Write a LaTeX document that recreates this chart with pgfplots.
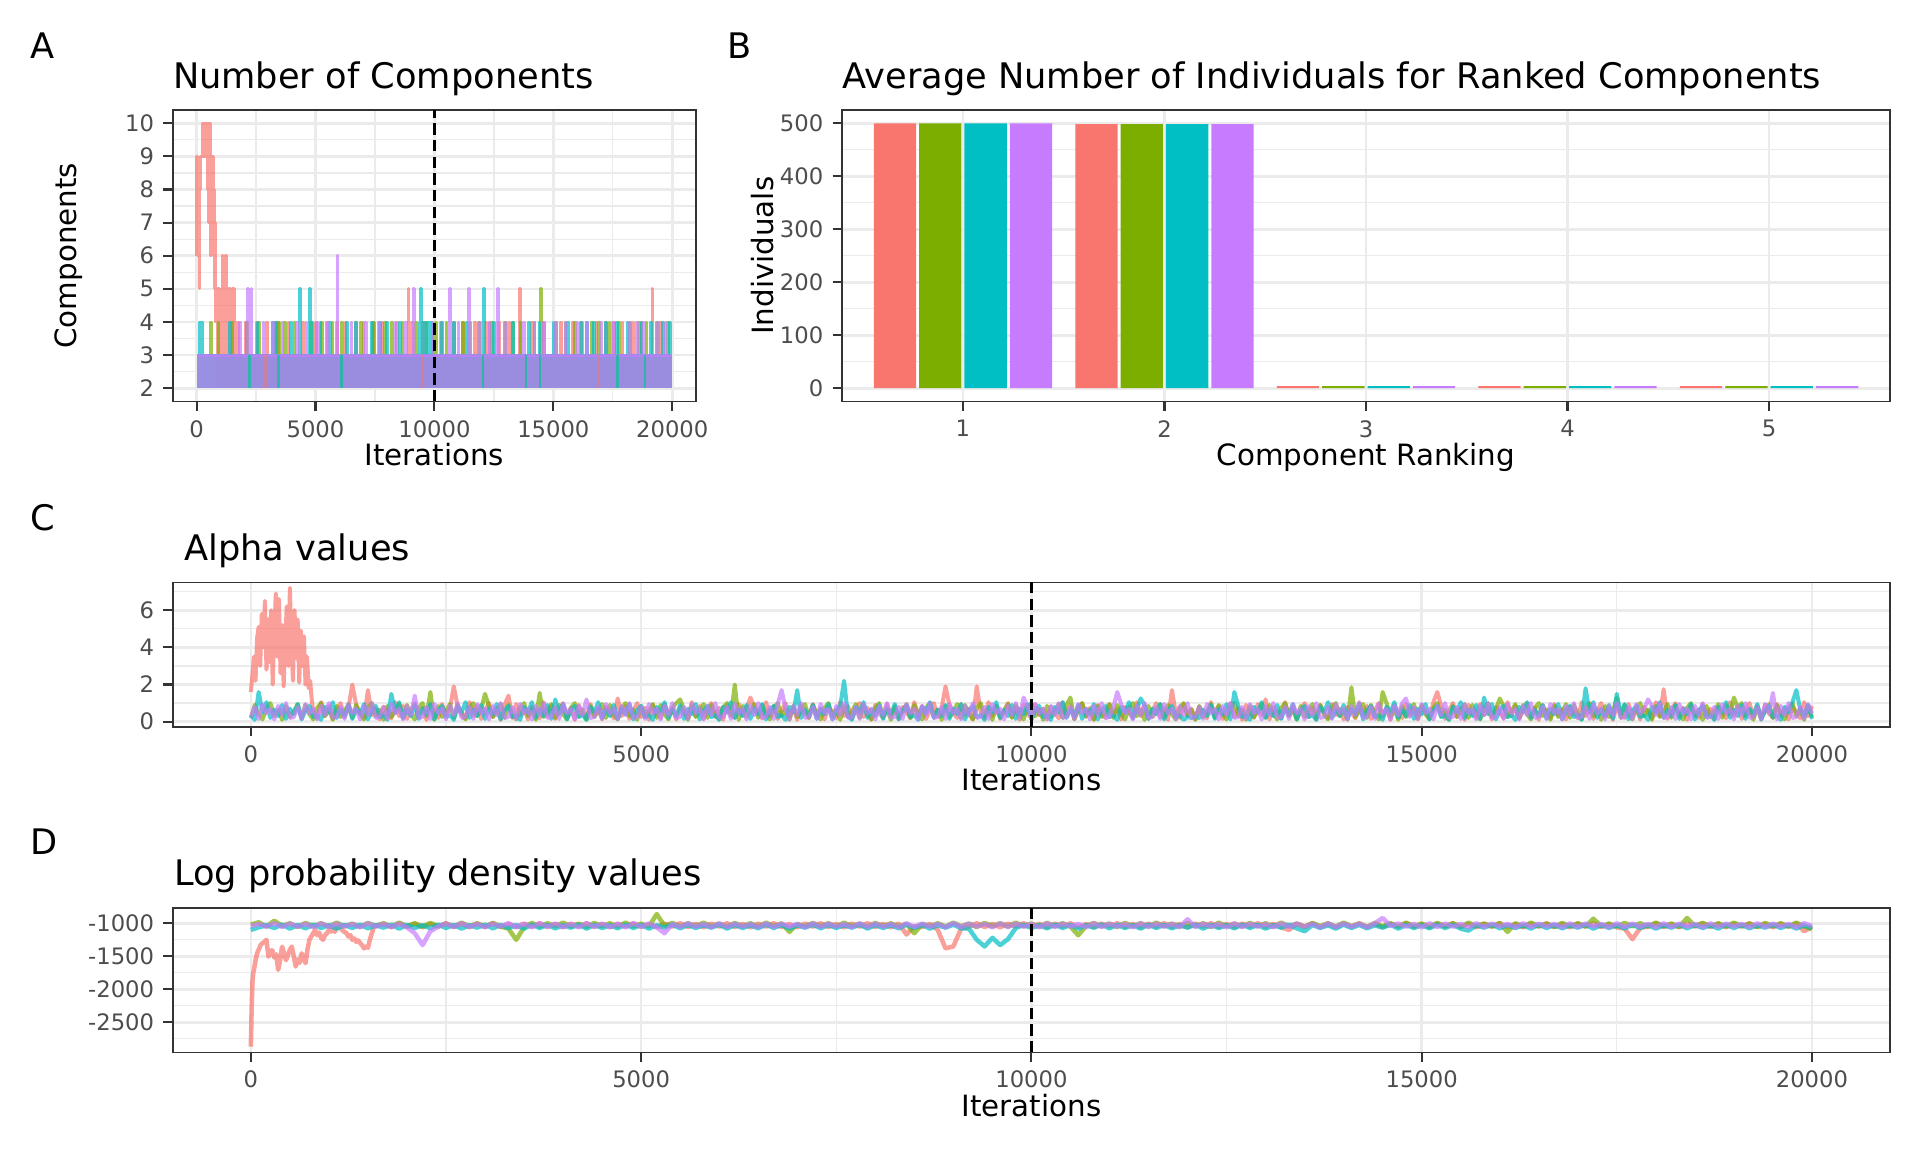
\documentclass[border=0pt]{standalone}
\usepackage{pgfplots}
\usepackage{pgfplotstable}
\pgfplotsset{compat=1.18}
\usepackage{fontspec}
\setmainfont{DejaVu Sans}
\definecolor{cR}{HTML}{F8766D}
\definecolor{cG}{HTML}{7CAE00}
\definecolor{cT}{HTML}{00BFC4}
\definecolor{cP}{HTML}{C77CFF}
\definecolor{tickgray}{HTML}{4D4D4D}
\definecolor{grid92}{HTML}{EBEBEB}
\definecolor{frame20}{HTML}{333333}

\pgfplotsset{gg/.style={
  scale only axis,
  scaled x ticks=false, scaled y ticks=false,
  grid=both,
  major grid style={grid92, line width=1.0pt},
  minor grid style={grid92, line width=0.5pt},
  axis line style={frame20, line width=0.6pt},
  tick align=outside, xtick pos=bottom, ytick pos=left,
  major tick length=3.5pt, minor tick length=0pt,
  tick style={frame20, line width=0.8pt},
  ticklabel style={font=\fontsize{8.5}{10}\selectfont, text=tickgray},
  clip=true,
}}
\tikzset{tr/.style={line width=1.1pt, opacity=0.7, line join=round},
         trc/.style={line width=1.5pt, opacity=0.7, line join=round},
         trw/.style={line width=1.7pt, opacity=0.7, line join=round},
         vdash/.style={black, line width=0.9pt, dash pattern=on 4.3pt off 1.95pt}}

% ---------- Alpha values (C) ----------
\pgfplotstableread{
x r g t p
0 .30 .20 .35 .25
50 .85 .90 .10 .80
100 .15 .40 1.60 .15
150 .60 .12 .50 .95
200 1.00 .75 1.05 .45
250 .25 1.00 .20 .70
300 .75 .30 .65 .12
350 .10 .65 .30 .85
400 .90 .10 .90 .35
450 .45 .85 .15 1.00
500 .20 .25 .70 .20
550 .95 .55 .40 .25
600 .35 .95 .95 .80
650 .70 .20 .12 .15
700 .12 .90 .60 .95
750 .80 .40 .85 .45
800 .50 .12 .25 .70
850 .18 .75 .35 .12
900 1.05 1.00 .10 .85
950 .30 .30 .80 .35
1000 .85 .65 .50 1.00
1050 .15 .10 1.05 .20
1100 .60 .85 .20 .25
1150 1.00 .25 .65 .80
1200 .25 .55 .30 .15
1250 .75 .95 .90 .95
1300 2.00 .20 .15 .45
1350 .90 .90 .70 .70
1400 .45 .40 .40 .12
1450 .20 .12 .95 .85
1500 1.70 .75 .12 .35
1550 .35 1.00 .60 1.00
1600 .70 .30 .85 .20
1650 .12 .65 .25 .25
1700 .80 .10 .35 .80
1750 .50 .85 .10 .15
1800 .18 .25 1.50 .95
1850 1.05 .55 .50 .45
1900 .30 .95 1.05 .70
1950 .85 .20 .20 .12
2000 .15 .90 .65 .85
2050 .60 .40 .30 .35
2100 1.00 .12 .90 1.40
2150 .25 .75 .15 .20
2200 .75 1.00 .70 .25
2250 .10 .30 .40 .80
2300 .90 1.60 .95 .15
2350 .45 .10 .12 .95
2400 .20 .85 .60 .45
2450 .95 .25 .85 .70
2500 .35 .55 .25 .12
2550 .70 .95 .35 .85
2600 1.90 .20 .10 .35
2650 .80 .90 .80 1.00
2700 .50 .40 .50 .20
2750 .18 .12 1.05 .25
2800 1.05 .75 .20 .80
2850 .30 1.00 .65 .15
2900 .85 .30 .30 .95
2950 .15 .65 .90 .45
3000 .60 1.50 .15 .70
3050 1.00 .85 .70 .12
3100 .25 .25 .40 .85
3150 .75 .55 .95 .35
3200 .10 .95 .12 1.00
3250 .90 .20 .60 .20
3300 1.40 .90 .85 .25
3350 .20 .40 .25 .80
3400 .95 .12 .35 .15
3450 .35 .75 .10 .95
3500 .70 1.00 .80 .45
3550 .12 .30 .50 .70
3600 .80 .65 1.05 .12
3650 .50 .10 .20 .85
3700 .18 1.55 .65 .35
3750 1.05 .25 .30 1.00
3800 .30 .55 .90 .20
3850 .85 .95 .15 .25
3900 .15 .20 1.20 .80
3950 .60 .90 .40 .15
4000 1.00 .40 .95 .95
4050 .25 .12 .12 .45
4100 .75 .75 .60 .70
4150 .10 1.00 .85 .12
4200 .90 .30 .25 .85
4250 .45 .65 .35 .35
4300 .20 .10 .10 1.20
4350 .95 .85 .80 .20
4400 .35 .25 .50 .25
4450 .70 .55 1.05 .80
4500 .12 .95 .20 .15
4550 .80 .20 .65 .95
4600 .50 .90 .30 .45
4650 .18 .40 .90 .70
4700 1.25 .12 .15 .12
4750 .30 .75 .70 .85
4800 .85 1.00 .40 .35
4850 .15 .30 .95 1.00
4900 .60 .65 .12 .20
4950 1.00 .10 .60 .25
5000 .25 .85 .85 .80
5050 .75 .25 .25 .15
5100 .10 .55 .35 .95
5150 .90 .95 .10 .45
5200 .45 .20 .80 .70
5250 .20 .90 .50 .12
5300 .95 .40 1.05 .85
5350 .35 .12 .20 .35
5400 .70 .75 .65 1.00
5450 .12 1.00 .30 .20
5500 .80 1.20 .90 .25
5550 .50 .65 .15 .80
5600 .18 .10 .70 .15
5650 1.05 .85 .40 .95
5700 .30 .25 .95 .45
5750 .85 .55 .12 .70
5800 .15 .95 .60 .12
5850 .60 .20 .85 .85
5900 1.00 .90 .25 .35
5950 .25 .40 .35 1.00
6000 .75 .12 .10 .20
6050 .10 .75 .80 .25
6100 .90 1.00 .50 .80
6150 .45 .30 1.05 .15
6200 .20 2.00 .20 .95
6250 .95 .10 .65 .45
6300 .35 .85 .30 .70
6350 .70 .25 .90 .12
6400 1.30 .55 .15 .85
6450 .80 .95 .70 .35
6500 .50 .20 .40 1.00
6550 .18 .90 .95 .20
6600 1.05 .40 .12 .25
6650 .30 .12 .60 .80
6700 .85 .75 .85 .15
6750 .15 1.00 .25 .95
6800 .60 .30 .35 1.70
6850 1.00 .65 .10 .70
6900 .25 .10 .80 .12
6950 .75 .85 .50 .85
7000 .10 .25 1.70 .35
7050 .90 .55 .20 1.00
7100 .45 .95 .65 .20
7150 .20 .20 .30 .25
7200 .95 .90 .90 .80
7250 .35 .40 .15 .15
7300 .70 .12 .70 .95
7350 .12 .75 .40 .45
7400 .80 1.00 .95 .70
7450 .50 .30 .12 .12
7500 .18 .65 .60 .85
7550 1.05 .10 .85 .35
7600 .30 .85 2.20 1.00
7650 .85 .25 .35 .20
7700 .15 .55 .10 .25
7750 .60 .95 .80 .80
7800 1.00 .20 .50 .15
7850 .25 .90 1.05 .95
7900 .75 .40 .20 .45
7950 .10 .12 .65 .70
8000 .90 .75 .30 .12
8050 .45 1.00 .90 .85
8100 .20 .30 .15 .35
8150 .95 .65 .70 1.00
8200 .35 .10 .40 .20
8250 .70 .85 .95 .25
8300 .12 .25 .12 .80
8350 .80 .55 .60 .15
8400 .50 .95 .85 .95
8450 .18 .20 .25 .45
8500 1.05 .90 .35 .70
8550 .30 .40 .10 .12
8600 .85 .12 .80 .85
8650 .15 .75 .50 .35
8700 .60 1.00 1.05 1.00
8750 1.00 .30 .20 .20
8800 .25 .65 .65 .25
8850 .75 .10 .30 .80
8900 1.90 .85 .90 .15
8950 .90 .25 .15 .95
9000 .45 .55 .70 .45
9050 .20 .95 .40 .70
9100 .95 .20 .95 .12
9150 .35 .90 .12 .85
9200 .70 .40 .60 .35
9250 .12 .12 .85 1.00
9300 1.90 .75 .25 .20
9350 .50 1.00 .35 .25
9400 .18 .30 .10 .80
9450 1.05 .65 .80 .15
9500 .30 .10 .50 .95
9550 .85 .85 1.05 .45
9600 .15 .25 .20 .70
9650 .60 .55 .65 .12
9700 1.00 .95 .30 .85
9750 .25 .20 .90 .35
9800 .75 .90 .15 1.00
9850 .10 .40 .70 .20
9900 .90 .12 .40 1.30
9950 .45 .75 .95 .80
10000 .20 1.00 .12 .15
10050 .95 .30 .60 .95
10100 .35 .65 .85 .45
10150 .70 .10 .25 .70
10200 .12 .85 .35 .12
10250 .80 .25 .10 .85
10300 .50 .55 .80 .35
10350 .18 .95 .50 1.00
10400 1.05 .20 1.05 .20
10450 .30 .90 .20 .25
10500 .85 1.30 .65 .80
10550 .15 .12 .30 .15
10600 .60 .75 .90 .95
10650 1.00 1.00 .15 .45
10700 .25 .30 .70 .70
10750 .75 .65 .40 .12
10800 .10 .10 .95 .85
10850 .90 .85 .12 .35
10900 .45 .25 .60 1.00
10950 .20 .55 .85 .20
11000 .95 .95 .25 .25
11050 .35 .20 .35 .80
11100 .70 .90 .10 1.60
11150 .12 .40 .80 .95
11200 .80 .12 .50 .45
11250 .50 .75 1.05 .70
11300 .18 1.00 .20 .12
11350 1.05 .30 .65 .85
11400 .30 .65 1.25 .35
11450 .85 .10 .90 1.00
11500 .15 .85 .15 .20
11550 .60 .25 .70 .25
11600 1.00 .55 .40 .80
11650 .25 .95 .95 .15
11700 .75 .20 .12 .95
11750 .10 .90 .60 .45
11800 1.70 .40 .85 .70
11850 .45 .12 .25 .12
11900 .20 .75 .35 .85
11950 .95 1.00 .10 .35
12000 .35 .30 .25 1.00
12050 .70 .65 .20 .20
12100 .12 .10 .30 .25
12150 .80 .85 .20 .80
12200 .50 .25 .65 .15
12250 .18 .55 .30 .95
12300 1.05 .95 .90 .45
12350 .30 .20 .15 .70
12400 .85 .90 .70 .12
12450 .15 .40 .40 .85
12500 .60 .12 .95 .35
12550 1.00 .75 .12 1.00
12600 .25 1.00 1.60 .20
12650 .75 .30 .85 .25
12700 .10 .65 .25 .80
12750 .90 .10 .35 .15
12800 .45 .85 .10 .95
12850 .20 .25 .80 .45
12900 .95 .55 .50 .70
12950 .35 .95 1.05 .12
13000 1.20 .20 .20 .85
13050 .12 .90 .65 .35
13100 .80 .40 .30 1.00
13150 .50 .12 .90 .20
13200 .18 .75 .15 .25
13250 1.05 1.00 .70 .80
13300 .30 .30 .40 .15
13350 .85 .65 .95 .95
13400 .15 .10 .12 .45
13450 .60 .85 .60 .70
13500 1.00 .25 .85 .12
13550 .25 .55 .25 .85
13600 .75 .95 .35 .35
13650 .10 .20 .10 1.00
13700 .90 .90 .80 .20
13750 .45 .40 .50 .25
13800 .20 .12 1.05 .80
13850 .95 .75 .20 .15
13900 .35 1.00 .65 .95
13950 .70 .30 .30 .45
14000 .12 .65 .90 .70
14050 .80 .10 .15 .12
14100 .50 1.85 .70 .85
14150 .18 .25 .40 .35
14200 1.05 .55 .95 1.00
14250 .30 .95 .12 .20
14300 .85 .20 .60 .25
14350 .15 .90 .85 .80
14400 .60 .40 .25 .15
14450 1.00 .12 .35 .95
14500 .25 1.60 .10 .45
14550 .75 1.00 .80 .70
14600 .10 .30 .50 .12
14650 .90 .65 1.05 .85
14700 .45 .10 .20 .35
14750 .20 .85 .65 1.00
14800 .95 .25 .30 1.25
14850 .35 .55 .90 .25
14900 .70 .95 .15 .80
14950 .12 .20 .70 .15
15000 .80 .90 .40 .95
15050 .50 .40 .95 .45
15100 .18 .12 .12 .70
15150 1.05 .75 .60 .12
15200 1.60 1.00 .85 .85
15250 .85 .30 .25 .35
15300 .15 .65 .35 1.00
15350 .60 .10 .10 .20
15400 1.00 .85 .80 .25
15450 .25 .25 .50 .80
15500 .75 .55 1.05 .15
15550 .10 .95 .20 .95
15600 .90 .20 .65 .45
15650 .45 .90 .30 .70
15700 .20 .40 .90 .12
15750 .95 .12 .15 .85
15800 .35 .75 1.30 .35
15850 .70 1.00 .40 1.00
15900 .12 .30 .95 .20
15950 .80 .65 .12 .25
16000 .50 1.25 .60 .80
16050 .18 .85 .85 .15
16100 1.05 .25 .25 .95
16150 .30 .55 .35 .45
16200 .85 .95 .10 .70
16250 .15 .20 .80 .12
16300 .60 .90 .50 .85
16350 1.00 .40 1.05 .35
16400 .25 .12 .20 1.00
16450 .75 .75 .65 .20
16500 .10 1.00 .30 .25
16550 .90 .30 .90 .80
16600 .45 .65 .15 .15
16650 .20 .10 .70 .95
16700 .95 .85 .40 .45
16750 .35 .25 .95 .70
16800 .70 .55 .12 .12
16850 .12 .95 .60 .85
16900 .80 .20 .85 .35
16950 .50 .90 .25 1.00
17000 .18 .40 .35 .20
17050 1.05 .12 .10 .25
17100 .30 .75 1.80 .80
17150 .85 1.00 .50 .15
17200 .15 .30 1.05 .95
17250 .60 .65 .20 .45
17300 1.00 .10 .65 .70
17350 .25 .85 .30 .12
17400 .75 .25 .90 .85
17450 .10 .55 .15 .35
17500 .90 1.30 1.50 1.00
17550 .45 .20 .40 .20
17600 .20 .90 .95 .25
17650 .95 .40 .12 .80
17700 .35 .12 .60 .15
17750 .70 .75 .85 .95
17800 .12 1.00 .25 .45
17850 .80 .30 .35 .70
17900 .50 .65 .10 1.20
17950 .18 .10 .80 .85
18000 1.05 .85 .50 .35
18050 .30 .25 1.05 1.00
18100 1.75 .55 .20 .20
18150 .15 .95 .65 .25
18200 .60 .20 .30 .80
18250 1.00 .90 .90 .15
18300 .25 .40 .15 .95
18350 .75 .12 .70 .45
18400 .10 .75 .40 .70
18450 .90 1.00 .95 .12
18500 .45 .30 .12 .85
18550 .20 .65 .60 .35
18600 .95 .10 .85 1.00
18650 .35 .85 .25 .20
18700 .70 .25 .35 .25
18750 .12 .55 .10 .80
18800 .80 .95 .80 .15
18850 .50 .20 .50 .95
18900 .18 .90 1.05 .45
18950 1.05 .40 .20 .70
19000 .30 1.30 .65 .12
19050 .85 .75 .30 .85
19100 .15 1.00 .90 .35
19150 .60 .30 .15 1.00
19200 1.00 .65 .70 .20
19250 .25 .10 .40 .25
19300 .75 .85 .95 .80
19350 .10 .25 .12 .15
19400 .90 .55 .60 .95
19450 .45 .95 .85 .45
19500 .20 .20 .25 1.55
19550 .95 .90 .35 .12
19600 .35 .40 .10 .85
19650 .70 .12 .80 .35
19700 .12 .75 .50 1.00
19750 .80 1.00 1.05 .20
19800 .50 .30 1.70 .25
19850 .18 .65 .65 .80
19900 1.05 .10 .30 .15
19950 .30 .85 .90 .95
20000 .85 .25 .15 .45
}\alphatab

\pgfplotstableread{
x y
0 1.6
20 2.5
40 3.5
60 2.2
80 4.5
100 5.1
120 3.0
140 5.8
160 4.0
180 6.5
200 2.8
220 5.5
240 3.2
260 6.0
280 2.0
300 4.8
320 6.9
340 3.5
360 6.6
380 2.6
400 5.2
420 1.9
440 4.4
460 6.2
480 3.0
500 7.2
520 4.0
540 2.2
560 6.0
580 3.4
600 5.5
620 2.1
640 4.9
660 3.0
680 4.6
700 2.0
720 3.5
740 1.8
760 2.2
780 1.2
800 0.5
}\alphared

% ---------- Log probability density (D) ----------
\pgfplotstableread{
x r g t p
0 -1040 -1020 -1100 -1040
100 -1040 -985 -1060 -1010
200 -1040 -1050 -1030 -1050
300 -1040 -960 -1070 -1000
400 -1040 -1040 -1020 -1055
500 -1040 -1000 -1080 -1005
600 -1040 -1055 -1025 -1050
700 -1040 -995 -1075 -1010
800 -1040 -1045 -1020 -1060
900 -1040 -1000 -1070 -1000
1000 -1040 -1050 -1030 -1055
1100 -1040 -990 -1080 -1005
1200 -1040 -1045 -1025 -1050
1300 -1040 -1005 -1070 -1010
1400 -1040 -1055 -1020 -1060
1500 -1040 -995 -1075 -1000
1600 -1040 -1040 -1030 -1050
1700 -1010 -1000 -1065 -1010
1800 -1060 -1050 -1020 -1055
1900 -1000 -990 -1080 -1005
2000 -1055 -1045 -1025 -1060
2100 -1005 -1000 -1070 -1150
2200 -1060 -1050 -1030 -1330
2300 -1010 -995 -1075 -1120
2400 -1050 -1045 -1020 -1050
2500 -1000 -1005 -1070 -1005
2600 -1055 -1050 -1025 -1055
2700 -1010 -990 -1080 -1000
2800 -1060 -1045 -1030 -1050
2900 -1005 -1000 -1065 -1010
3000 -1050 -1055 -1020 -1060
3100 -1000 -995 -1075 -1005
3200 -1055 -1050 -1025 -1050
3300 -1010 -1080 -1070 -1000
3400 -1060 -1250 -1030 -1055
3500 -1005 -1060 -1080 -1010
3600 -1050 -995 -1020 -1060
3700 -1000 -1050 -1070 -1000
3800 -1055 -1000 -1025 -1050
3900 -1010 -1045 -1075 -1005
4000 -1060 -990 -1030 -1055
4100 -1005 -1050 -1065 -1010
4200 -1050 -1005 -1020 -1060
4300 -1000 -1055 -1080 -1000
4400 -1055 -995 -1025 -1050
4500 -1010 -1045 -1070 -1005
4600 -1060 -1000 -1030 -1055
4700 -1005 -1050 -1075 -1010
4800 -1050 -990 -1020 -1060
4900 -1000 -1045 -1070 -1000
5000 -1055 -1005 -1025 -1050
5100 -1010 -1050 -1080 -1005
5200 -1060 -860 -1030 -1060
5300 -1005 -1040 -1065 -1150
5400 -1050 -995 -1020 -1010
5500 -1000 -1050 -1075 -1055
5600 -1055 -1000 -1025 -1000
5700 -1010 -1045 -1070 -1050
5800 -1060 -990 -1030 -1010
5900 -1005 -1050 -1065 -1060
6000 -1050 -1005 -1020 -1000
6100 -1000 -1055 -1080 -1055
6200 -1055 -995 -1025 -1005
6300 -1010 -1045 -1070 -1050
6400 -1060 -1000 -1030 -1010
6500 -1005 -1050 -1075 -1060
6600 -1050 -990 -1020 -1000
6700 -1000 -1045 -1070 -1055
6800 -1055 -1000 -1025 -1005
6900 -1010 -1130 -1080 -1050
7000 -1060 -1010 -1030 -1010
7100 -1005 -1050 -1065 -1060
7200 -1050 -995 -1020 -1000
7300 -1000 -1045 -1075 -1055
7400 -1055 -1000 -1025 -1005
7500 -1010 -1050 -1070 -1050
7600 -1060 -990 -1030 -1010
7700 -1005 -1045 -1065 -1060
7800 -1050 -1005 -1020 -1000
7900 -1000 -1055 -1080 -1055
8000 -1055 -995 -1025 -1005
8100 -1010 -1045 -1070 -1050
8200 -1060 -1000 -1030 -1010
8300 -1005 -1050 -1075 -1060
8400 -1170 -1010 -1020 -1000
8500 -1040 -1150 -1070 -1055
8600 -1055 -1010 -1025 -1005
8700 -1010 -1045 -1080 -1050
8800 -1100 -1000 -1030 -1010
8900 -1380 -1050 -1065 -1060
9000 -1350 -990 -1020 -1000
9100 -1080 -1045 -1075 -1055
9200 -1050 -1005 -1080 -1005
9300 -1000 -1055 -1250 -1050
9400 -1055 -995 -1350 -1010
9500 -1010 -1045 -1220 -1060
9600 -1060 -1000 -1330 -1000
9700 -1005 -1050 -1240 -1055
9800 -1050 -990 -1070 -1005
9900 -1000 -1045 -1025 -1050
10000 -1055 -1005 -1070 -1010
10100 -1010 -1050 -1030 -1060
10200 -1060 -995 -1075 -1000
10300 -1005 -1045 -1020 -1055
10400 -1050 -1000 -1070 -1005
10500 -1000 -1050 -1025 -1050
10600 -1055 -1180 -1080 -1010
10700 -1010 -1040 -1030 -1060
10800 -1060 -995 -1065 -1000
10900 -1005 -1045 -1020 -1055
11000 -1050 -1005 -1075 -1005
11100 -1000 -1055 -1025 -1050
11200 -1055 -995 -1070 -1010
11300 -1010 -1045 -1030 -1060
11400 -1060 -1000 -1080 -1000
11500 -1005 -1050 -1020 -1055
11600 -1050 -990 -1070 -1005
11700 -1000 -1045 -1025 -1050
11800 -1055 -1005 -1075 -1010
11900 -1010 -1050 -1030 -1060
12000 -1060 -995 -1065 -940
12100 -1005 -1045 -1020 -1055
12200 -1050 -1000 -1080 -1005
12300 -1000 -1055 -1025 -1050
12400 -1055 -990 -1070 -1010
12500 -1010 -1045 -1030 -1060
12600 -1060 -1005 -1075 -1000
12700 -1005 -1050 -1020 -1055
12800 -1050 -995 -1070 -1005
12900 -1000 -1045 -1025 -1050
13000 -1055 -1000 -1080 -1010
13100 -1010 -1050 -1030 -1060
13200 -1060 -990 -1065 -1000
13300 -1100 -1045 -1020 -1055
13400 -1005 -1005 -1075 -1005
13500 -1050 -1055 -1120 -1050
13600 -1000 -995 -1025 -1010
13700 -1055 -1045 -1070 -1060
13800 -1010 -1000 -1030 -1000
13900 -1060 -1050 -1080 -1055
14000 -1005 -990 -1020 -1005
14100 -1050 -1045 -1070 -1050
14200 -1000 -1005 -1025 -1010
14300 -1055 -1055 -1075 -1060
14400 -1010 -995 -1030 -1000
14500 -1060 -1045 -1065 -920
14600 -1005 -1000 -1020 -1040
14700 -1050 -1050 -1080 -1005
14800 -1000 -990 -1025 -1050
14900 -1055 -1045 -1070 -1010
15000 -1010 -1005 -1030 -1060
15100 -1060 -1050 -1075 -1000
15200 -1005 -995 -1020 -1055
15300 -1050 -1045 -1070 -1005
15400 -1000 -1000 -1025 -1050
15500 -1055 -1055 -1080 -1010
15600 -1010 -990 -1110 -1060
15700 -1060 -1045 -1030 -1000
15800 -1005 -1005 -1065 -1055
15900 -1050 -1050 -1020 -1005
16000 -1000 -995 -1075 -1050
16100 -1055 -1130 -1025 -1010
16200 -1010 -1000 -1070 -1060
16300 -1060 -1050 -1030 -1000
16400 -1005 -990 -1080 -1055
16500 -1050 -1045 -1020 -1005
16600 -1000 -1005 -1070 -1050
16700 -1055 -1055 -1025 -1010
16800 -1010 -995 -1075 -1060
16900 -1060 -1045 -1030 -1000
17000 -1005 -1000 -1065 -1055
17100 -1050 -1050 -1020 -1005
17200 -1000 -930 -1080 -1050
17300 -1055 -1045 -1025 -1010
17400 -1010 -1005 -1070 -1060
17500 -1060 -1050 -1030 -1000
17600 -1080 -995 -1075 -1055
17700 -1240 -1045 -1020 -1005
17800 -1070 -1000 -1070 -1050
17900 -1050 -1050 -1025 -1010
18000 -1000 -990 -1080 -1060
18100 -1055 -1045 -1030 -1000
18200 -1010 -1005 -1065 -1055
18300 -1060 -1055 -1020 -1005
18400 -1005 -920 -1075 -1050
18500 -1050 -1040 -1025 -1010
18600 -1000 -995 -1070 -1060
18700 -1055 -1045 -1030 -1000
18800 -1010 -1000 -1080 -1055
18900 -1060 -1050 -1020 -1005
19000 -1005 -990 -1070 -1050
19100 -1050 -1045 -1025 -1010
19200 -1000 -1005 -1075 -1060
19300 -1055 -1055 -1030 -1000
19400 -1010 -995 -1065 -1055
19500 -1060 -1045 -1020 -1005
19600 -1005 -1000 -1070 -1050
19700 -1050 -1050 -1025 -1010
19800 -1000 -990 -1080 -1060
19900 -1120 -1045 -1030 -1000
20000 -1050 -1090 -1070 -1040
}\lpdtab

\pgfplotstableread{
x y
0 -2870
10 -2300
20 -1900
30 -1760
40 -1700
60 -1560
80 -1455
100 -1400
125 -1330
150 -1300
175 -1280
200 -1250
225 -1505
250 -1420
275 -1410
300 -1520
325 -1470
350 -1705
375 -1560
400 -1355
425 -1450
450 -1560
475 -1480
500 -1400
525 -1355
550 -1500
575 -1655
600 -1550
625 -1600
650 -1455
675 -1520
700 -1605
725 -1400
750 -1250
775 -1200
800 -1150
825 -1100
850 -1180
875 -1140
900 -1220
925 -1250
950 -1180
975 -1150
1000 -1100
1025 -1125
1050 -1080
1075 -1130
1100 -1060
1125 -1050
1150 -1070
1175 -1110
1200 -1130
1225 -1150
1250 -1200
1275 -1180
1300 -1250
1325 -1230
1350 -1280
1375 -1260
1400 -1300
1425 -1330
1450 -1380
1475 -1350
1500 -1370
1525 -1250
1550 -1150
1575 -1060
1600 -1040
}\lpdred

\begin{document}
\begin{tikzpicture}
\path[use as bounding box] (0,0) rectangle (720pt,-432pt);

% ================= Panel A =================
\begin{axis}[gg, at={(64.8pt,-41.25pt)}, anchor=north west,
  width=196.2pt, height=109.3pt,
  xmin=-1000, xmax=21000, ymin=1.6, ymax=10.4,
  xtick={0,5000,10000,15000,20000}, xticklabels={0,5000,10000,15000,20000},
  minor xtick={2500,7500,12500,17500},
  ytick={2,3,4,5,6,7,8,9,10}, yticklabels={2,3,4,5,6,7,8,9,10},
  minor ytick={2.5,3.5,4.5,5.5,6.5,7.5,8.5,9.5}]
% red
\addplot[fill=cR, draw=none, fill opacity=0.7] coordinates {(800,2)(20000,2)(20000,3)(800,3)};
\addplot[const plot, cR, tr] coordinates {(0,6)(0,9)(20,6)(60,8)(90,6)(120,5)(140,8)(180,9)(230,10)(290,9)(320,10)(380,9)(410,10)(460,8)(490,10)(520,7)(560,10)(600,6)(630,9)(660,7)(690,9)(720,8)(760,5)(790,7)(810,4)(840,5)(880,3)(910,5)(960,3)(1000,4)(1060,3)(1080,6)(1110,3)(1150,4)(1180,3)(1230,6)(1260,3)(1310,5)(1340,3)(1390,5)(1420,4)(1450,3)(1500,5)(1540,3)(1580,5)(1610,3)(1660,4)(1690,3)(1750,4)(1780,3)(2050,4)(2080,3)(2500,4)(2530,3)(2950,4)(2980,3)(3400,4)(3430,3)(3850,4)(3880,3)(4450,4)(4480,3)(5000,4)(5030,3)(5450,4)(5480,3)(5900,4)(5930,3)(6250,4)(6280,3)(6700,4)(6730,3)(7000,4)(7030,3)(7400,4)(7430,3)(7800,4)(7830,3)(8400,4)(8430,3)(8900,5)(8930,3)(9050,4)(9080,3)(9500,4)(9530,3)(10250,4)(10280,3)(10800,4)(10830,3)(11200,4)(11230,3)(11700,4)(11730,3)(12150,4)(12180,3)(12300,4)(12330,3)(12700,4)(12730,3)(13150,4)(13180,3)(13580,5)(13610,3)(14100,4)(14130,3)(14600,4)(14630,3)(15300,4)(15330,3)(15800,4)(15830,3)(16200,4)(16230,3)(16800,4)(16830,3)(17200,4)(17230,3)(17550,4)(17580,3)(17900,4)(17930,3)(18350,4)(18380,3)(18700,4)(18730,3)(19150,5)(19180,3)(19500,4)(19530,3)(20000,3)};
% green
\addplot[fill=cG, draw=none, fill opacity=0.7] coordinates {(0,2)(20000,2)(20000,3)(0,3)};
\addplot[const plot, cG, tr] coordinates {(0,3)(600,4)(630,3)(900,4)(930,3)(1500,4)(1530,3)(2100,4)(2130,3)(2600,4)(2630,3)(3300,4)(3330,3)(3450,4)(3480,3)(3700,4)(3730,3)(4100,4)(4130,3)(4800,4)(4830,3)(5250,4)(5280,3)(5700,4)(5730,3)(6100,4)(6130,3)(6900,4)(6930,3)(7450,4)(7480,3)(7900,4)(7930,3)(8200,4)(8230,3)(8650,4)(8680,3)(9200,4)(9230,3)(9650,4)(9680,3)(10050,4)(10080,3)(10500,4)(10530,3)(11200,4)(11230,3)(11500,4)(11530,3)(11850,4)(11880,3)(12400,4)(12430,3)(12950,4)(12980,3)(13300,4)(13330,3)(13600,4)(13630,3)(14200,4)(14230,3)(14470,5)(14500,3)(15100,4)(15130,3)(15500,4)(15530,3)(15900,4)(15930,3)(16600,4)(16630,3)(16900,4)(16930,3)(17350,4)(17380,3)(17750,4)(17780,3)(18200,4)(18230,3)(18600,4)(18630,3)(18900,4)(18930,3)(19350,4)(19380,3)(19800,4)(19830,3)(20000,3)};
% teal
\addplot[fill=cT, draw=none, fill opacity=0.7] coordinates {(0,2)(20000,2)(20000,3)(0,3)};
\addplot[const plot, cT, tr] coordinates {(0,3)(115,4)(145,3)(212,4)(242,3)(1390,4)(1420,3)(2540,4)(2570,3)(3200,4)(3230,3)(3280,4)(3310,3)(3350,4)(3380,3)(3950,4)(3980,3)(4320,5)(4350,3)(4760,5)(4790,3)(4840,4)(4870,3)(5200,4)(5230,3)(5600,4)(5630,3)(6300,4)(6330,3)(6700,4)(6730,3)(7350,4)(7380,3)(7700,4)(7730,3)(8000,4)(8030,3)(8550,4)(8580,3)(9360,4)(9390,3)(9420,5)(9450,4)(9520,3)(9560,4)(9640,3)(9680,4)(9760,3)(9800,4)(9880,3)(9900,4)(9940,3)(10300,4)(10330,3)(10800,4)(10830,3)(11350,4)(11380,3)(12060,5)(12090,3)(12500,4)(12530,3)(13300,4)(13330,3)(13950,4)(13980,3)(14400,4)(14430,3)(15000,4)(15030,3)(15600,4)(15630,3)(16150,4)(16180,3)(16400,4)(16430,3)(16700,4)(16730,3)(17200,4)(17230,3)(17650,4)(17680,3)(18100,4)(18130,3)(18700,4)(18730,3)(19100,4)(19130,3)(19600,4)(19630,3)(19900,4)(19930,3)(20000,3)};
% purple
\addplot[fill=cP, draw=none, fill opacity=0.7] coordinates {(0,2)(20000,2)(20000,3)(0,3)};
\addplot[const plot, cP, tr] coordinates {(0,3)(1800,4)(1830,3)(2160,5)(2190,3)(2290,5)(2320,3)(2800,4)(2830,3)(3200,4)(3230,3)(3600,4)(3630,3)(4200,4)(4230,3)(4600,4)(4630,3)(5050,4)(5080,3)(5500,4)(5530,3)(5915,6)(5945,3)(6500,4)(6530,3)(7100,4)(7130,3)(7650,4)(7680,3)(8350,4)(8380,3)(8800,4)(8830,3)(9130,5)(9160,3)(9900,4)(9930,3)(10640,5)(10670,3)(11000,4)(11030,3)(11450,5)(11480,3)(11900,4)(11930,3)(12300,4)(12330,3)(12660,5)(12690,3)(13000,4)(13030,3)(13750,4)(13780,3)(14200,4)(14230,3)(14600,4)(14630,3)(15100,4)(15130,3)(15500,4)(15530,3)(16000,4)(16030,3)(16400,4)(16430,3)(17000,4)(17030,3)(17500,4)(17530,3)(18200,4)(18230,3)(18500,4)(18530,3)(18800,4)(18830,3)(19400,4)(19430,3)(19700,4)(19730,3)(20000,3)};
% stripes inside the band
\addplot[unbounded coords=jump, color=cT!80!cG, line width=0.9pt, opacity=0.8] coordinates {(2230,2)(2230,3)(2230,nan)(3450,2)(3450,3)(3450,nan)(6100,2)(6100,3)(6100,nan)(12050,2)(12050,3)(12050,nan)(13850,2)(13850,3)(13850,nan)(14450,2)(14450,3)(14450,nan)(17700,2)(17700,3)(17700,nan)(18850,2)(18850,3)};
\addplot[unbounded coords=jump, color=cR, line width=0.9pt, opacity=0.5] coordinates {(2890,2)(2890,3)(2890,nan)(9520,2)(9520,3)(9520,nan)(16900,2)(16900,3)};
\addplot[vdash] coordinates {(10000,1.6)(10000,10.4)};
\end{axis}

% ================= Panel B =================
\begin{axis}[gg, at={(315.75pt,-41.25pt)}, anchor=north west,
  width=393pt, height=109.3pt,
  xmin=0.4, xmax=5.6, ymin=-25, ymax=525,
  xtick={1,2,3,4,5}, xticklabels={1,2,3,4,5},
  ytick={0,100,200,300,400,500}, yticklabels={0,100,200,300,400,500},
  minor ytick={50,150,250,350,450}]
\addplot[ybar, bar width=0.21, bar shift=-0.3375, fill=cR, draw=none] coordinates {(1,500)(2,498.5)(3,4)(4,4)(5,4)};
\addplot[ybar, bar width=0.21, bar shift=-0.1125, fill=cG, draw=none] coordinates {(1,500)(2,498.5)(3,4)(4,4)(5,4)};
\addplot[ybar, bar width=0.21, bar shift=0.1125, fill=cT, draw=none] coordinates {(1,500)(2,498.5)(3,4)(4,4)(5,4)};
\addplot[ybar, bar width=0.21, bar shift=0.3375, fill=cP, draw=none] coordinates {(1,500)(2,498.5)(3,4)(4,4)(5,4)};
\end{axis}

% ================= Panel C =================
\begin{axis}[gg, at={(64.8pt,-218.36pt)}, anchor=north west,
  width=643.95pt, height=54.15pt,
  xmin=-1000, xmax=21000, ymin=-0.27, ymax=7.5,
  xtick={0,5000,10000,15000,20000}, xticklabels={0,5000,10000,15000,20000},
  minor xtick={2500,7500,12500,17500},
  ytick={0,2,4,6}, yticklabels={0,2,4,6},
  minor ytick={1,3,5,7}]
\addplot[cR, trc] table[x=x, y=y] {\alphared};
\addplot[cR, trc, restrict x to domain=800:20000] table[x=x, y=r] {\alphatab};
\addplot[cG, trc] table[x=x, y=g] {\alphatab};
\addplot[cT, trc] table[x=x, y=t] {\alphatab};
\addplot[cP, trc] table[x=x, y=p] {\alphatab};
\addplot[vdash] coordinates {(10000,-0.27)(10000,7.5)};
\end{axis}

% ================= Panel D =================
\begin{axis}[gg, at={(64.8pt,-340.39pt)}, anchor=north west,
  width=643.95pt, height=54.22pt,
  xmin=-1000, xmax=21000, ymin=-2955, ymax=-764,
  xtick={0,5000,10000,15000,20000}, xticklabels={0,5000,10000,15000,20000},
  minor xtick={2500,7500,12500,17500},
  ytick={-2500,-2000,-1500,-1000}, yticklabels={-2500,-2000,-1500,-1000},
  minor ytick={-2750,-2250,-1750,-1250}]
\addplot[cR, trw] table[x=x, y=y] {\lpdred};
\addplot[cR, trw, restrict x to domain=1600:20000] table[x=x, y=r] {\lpdtab};
\addplot[cG, trw] table[x=x, y=g] {\lpdtab};
\addplot[cT, trw] table[x=x, y=t] {\lpdtab};
\addplot[cP, trw] table[x=x, y=p] {\lpdtab};
\addplot[vdash] coordinates {(10000,-2955)(10000,-764)};
\end{axis}

% ================= Texts =================
\begin{scope}[every node/.style={inner sep=0pt}]
\node[anchor=base west, font=\fontsize{13.2}{15}\selectfont] at (11.25pt,-21.86pt) {A};
\node[anchor=base west, font=\fontsize{13.2}{15}\selectfont] at (272.6pt,-21.86pt) {B};
\node[anchor=base west, font=\fontsize{13.2}{15}\selectfont] at (11.25pt,-198.75pt) {C};
\node[anchor=base west, font=\fontsize{13.2}{15}\selectfont] at (11.25pt,-320.6pt) {D};
\node[anchor=base west, font=\fontsize{13.2}{15}\selectfont] at (64.7pt,-33.1pt) {Number of Components};
\node[anchor=base west, font=\fontsize{13.2}{15}\selectfont] at (315.75pt,-33.1pt) {Average Number of Individuals for Ranked Components};
\node[anchor=base west, font=\fontsize{13.2}{15}\selectfont] at (68.9pt,-210pt) {Alpha values};
\node[anchor=base west, font=\fontsize{13.2}{15}\selectfont] at (65.06pt,-331.9pt) {Log probability density values};
\node[anchor=base, font=\fontsize{11}{13}\selectfont] at (162.9pt,-174.4pt) {Iterations};
\node[anchor=base, font=\fontsize{11}{13}\selectfont] at (512.25pt,-174.4pt) {Component Ranking};
\node[anchor=base, font=\fontsize{11}{13}\selectfont] at (386.8pt,-296.25pt) {Iterations};
\node[anchor=base, font=\fontsize{11}{13}\selectfont] at (386.8pt,-418.5pt) {Iterations};
\node[anchor=base, rotate=90, font=\fontsize{11}{13}\selectfont] at (28.5pt,-95.9pt) {Components};
\node[anchor=base, rotate=90, font=\fontsize{11}{13}\selectfont] at (290.06pt,-95.9pt) {Individuals};
\end{scope}
\end{tikzpicture}
\end{document}
